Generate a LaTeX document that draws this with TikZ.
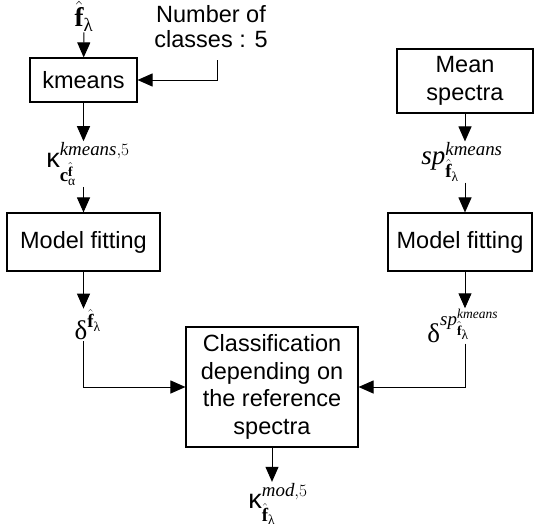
\documentclass[tikz,border=0pt]{standalone}
\usepackage{amsmath}
\usepackage{fontspec}
\setmainfont{Liberation Serif}
\setsansfont{Liberation Sans}
\usetikzlibrary{arrows.meta}

\newcommand{\glam}{\text{λ}}
\newcommand{\galpha}{\text{α}}
\newcommand{\gdelta}{\text{δ}}
\newcommand{\gkappa}{\text{\sffamily κ}}
\newcommand{\fh}{\hat{\mathbf{f}}}

\begin{document}
\begin{tikzpicture}[x=1pt,y=-1pt,
  box/.style={draw,line width=1.1pt,align=center,inner sep=0pt,
    font=\sffamily\fontsize{23.5}{27.5}\selectfont},
  lbl/.style={inner sep=1pt,font=\fontsize{27}{30}\selectfont},
  link/.style={line width=1pt},
  arr/.style={link,-{Triangle[length=15pt,width=13pt]}}]
  \useasboundingbox (0,0) rectangle (536,530);

  % boxes
  \node[box,minimum width=107pt,minimum height=44pt] (kmeans) at (83.5,80) {kmeans};
  \node[box,minimum width=153pt,minimum height=58pt] (fitleft) at (83.5,242) {Model fitting};
  \node[box,minimum width=136pt,minimum height=64pt] (mean) at (465,81) {Mean\\spectra};
  \node[box,minimum width=144pt,minimum height=58pt] (fitright) at (460,242) {Model fitting};
  \node[box,minimum width=172pt,minimum height=120pt] (classif) at (272,387)
    {Classification\\depending on\\the reference\\spectra};

  % labels
  \node[lbl] (fhat) at (84,16) {$\fh_{\glam}$};
  \node[align=center,inner sep=0pt,font=\sffamily\fontsize{23.5}{25}\selectfont] (ncl) at (211,27)
    {Number of\\classes : 5};
  \coordinate (nclfoot) at (217,60);
  \node[lbl] (kap) at (88,164) {$\gkappa^{\mathit{kmeans},5}_{\mathbf{c}^{\fh}_{\galpha}}$};
  \node[lbl] (sp) at (462,162) {$\mathit{sp}^{\mathit{kmeans}}_{\fh_{\glam}}$};
  \node[lbl] (dleft) at (88,325) {$\gdelta^{\fh_{\glam}}$};
  \node[lbl] (dright) at (463,326) {$\gdelta^{\mathit{sp}^{\mathit{kmeans}}_{\fh_{\glam}}}$};
  \node[lbl] (kapmod) at (278,504) {$\gkappa^{\mathit{mod},5}_{\fh_{\glam}}$};

  % connectors
  \draw[arr] (fhat) -- (kmeans);
  \draw[arr] (nclfoot) |- (kmeans);
  \draw[arr] (kmeans) -- (kmeans |- kap.north);
  \draw[arr] (kmeans |- kap.south) -- (fitleft);
  \draw[arr] (fitleft) -- (fitleft |- dleft.north);
  \draw[arr] (fitleft |- dleft.south) |- (classif);
  \draw[arr] (mean) -- (mean |- sp.north);
  \draw[arr] (mean |- sp.south) -- (mean |- fitright.north);
  \draw[arr] (mean |- fitright.south) -- (mean |- dright.north);
  \draw[arr] (mean |- dright.south) |- (classif);
  \draw[arr] (classif) -- (classif |- kapmod.north);
\end{tikzpicture}
\end{document}
